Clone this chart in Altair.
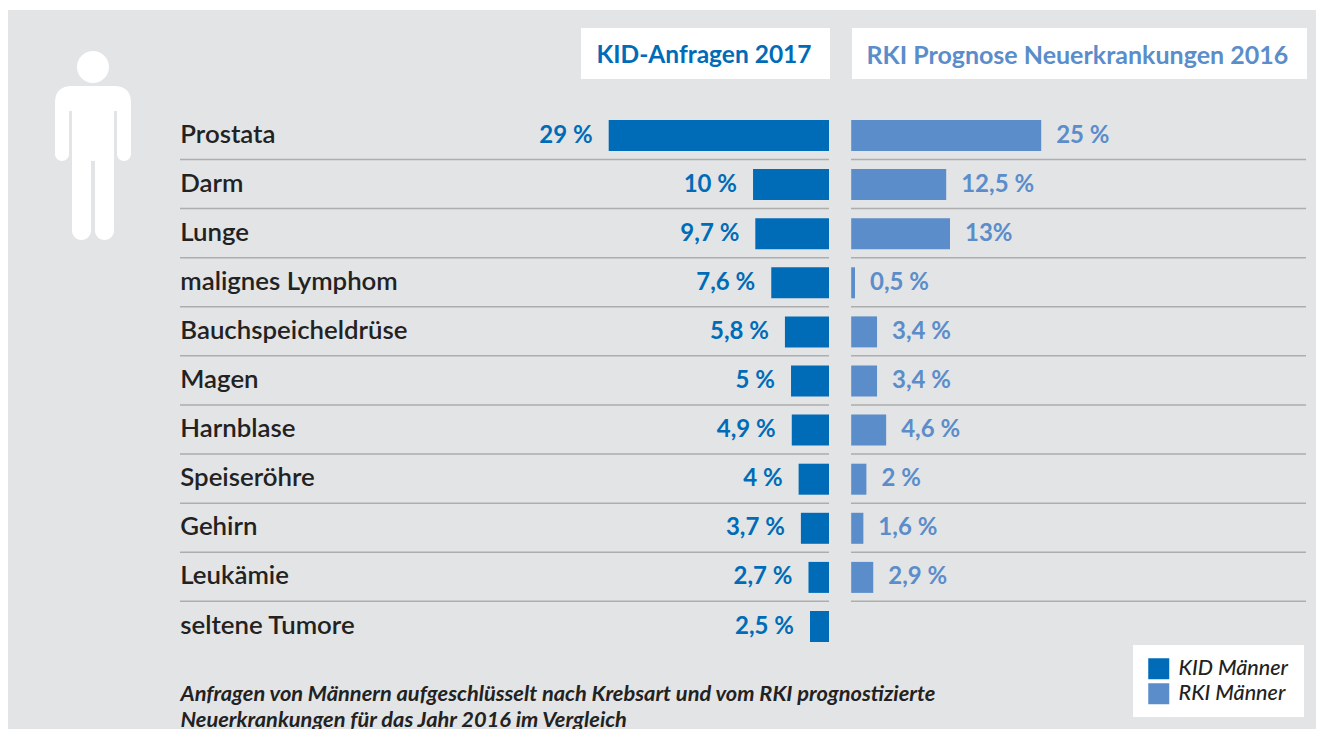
import altair as alt
import pandas as pd

categories = ["Prostata", "Darm", "Lunge", "malignes Lymphom", "Bauchspeicheldrüse", "Magen",
              "Harnblase", "Speiseröhre", "Gehirn", "Leukämie", "seltene Tumore"]
kid_values = [29, 10, 9.7, 7.6, 5.8, 5, 4.9, 4, 3.7, 2.7, 2.5]
kid_labels = ["29 %", "10 %", "9,7 %", "7,6 %", "5,8 %", "5 %", "4,9 %", "4 %", "3,7 %", "2,7 %", "2,5 %"]
rki_values = [25, 12.5, 13, 0.5, 3.4, 3.4, 4.6, 2, 1.6, 2.9]
rki_labels = ["25 %", "12,5 %", "13%", "0,5 %", "3,4 %", "3,4 %", "4,6 %", "2 %", "1,6 %", "2,9 %"]
kid_title = "KID-Anfragen 2017"
rki_title = "RKI Prognose Neuerkrankungen 2016"
series = ["KID Männer", "RKI Männer"]
footnote = ["Anfragen von Männern aufgeschlüsselt nach Krebsart und vom RKI prognostizierte",
            "Neuerkrankungen für das Jahr 2016 im Vergleich"]

KID = "#006cb7"
RKI = "#5b8dca"
BG = "#e3e4e6"
INK = "#222222"
FONT = "Lato"

kid = pd.DataFrame({"cat": categories, "v": kid_values, "label": kid_labels, "s": series[0]})
rki = pd.DataFrame({"cat": categories[:10], "v": rki_values, "label": rki_labels, "s": series[1]})
one = pd.DataFrame({"a": [0]})

y_scale = alt.Scale(type="band", domain=categories, range=[102.95, 643.05], paddingInner=0, paddingOuter=0)
Y = alt.Y("cat:N", scale=y_scale, axis=None)
Y_bottom = alt.Y("cat:N", scale=y_scale, axis=None, bandPosition=1)
color = alt.Color("s:N", scale=alt.Scale(domain=series, range=[KID, RKI]),
                  legend=alt.Legend(title=None, orient="none", legendX=1140, legendY=650, padding=0,
                                    symbolType="square", symbolSize=441, symbolStrokeWidth=0,
                                    labelFont=FONT, labelFontSize=21.5, labelFontStyle="italic",
                                    labelFontWeight=500, labelColor=INK, labelOffset=9,
                                    rowPadding=2, symbolOpacity=1))
X_kid = alt.X("v:Q", scale=alt.Scale(domain=[0, 29], range=[821, 600.7]), axis=None)
X_rki = alt.X("v:Q", scale=alt.Scale(domain=[0, 25], range=[843.2, 1033.2]), axis=None)


def box(x0, x1, y0, y1, fill):
    return alt.Chart(one).mark_rect(color=fill).encode(
        x=alt.value(x0), x2=alt.value(x1), y=alt.value(y0), y2=alt.value(y1))


person = ("M-38 -42 Q-38 -59 -21 -59 L21 -59 Q38 -59 38 -42 L38 9 A7 7 0 0 1 24 9 L24 -34 L21 -34 "
          "L21 85.5 A9.5 9.5 0 0 1 2 85.5 L2 16 L-2 16 L-2 85.5 A9.5 9.5 0 0 1 -21 85.5 "
          "L-21 -34 L-24 -34 L-24 9 A7 7 0 0 1 -38 9 Z "
          "M-16 -78 A16 16 0 1 0 16 -78 A16 16 0 1 0 -16 -78 Z")
icon = alt.Chart(one).mark_point(shape=person, size=4, filled=True, color="white", opacity=1, strokeWidth=0).encode(
    x=alt.value(85), y=alt.value(137))

rules_left = alt.Chart(kid.iloc[:10]).mark_rule(color="#adadad", strokeWidth=1.5, yOffset=-0.6).encode(
    y=Y_bottom, x=alt.value(172), x2=alt.value(821))
rules_right = alt.Chart(rki).mark_rule(color="#adadad", strokeWidth=1.5, yOffset=-0.6).encode(
    y=Y_bottom, x=alt.value(843), x2=alt.value(1298))

names = alt.Chart(kid).mark_text(align="left", font=FONT, fontSize=25.8, fontWeight=600, color=INK, dy=-1).encode(
    y=Y, x=alt.value(172.3), text="cat:N")

kid_bars = alt.Chart(kid).mark_bar(size=31).encode(y=Y, x=X_kid, color=color)
rki_bars = alt.Chart(rki).mark_bar(size=31).encode(y=Y, x=X_rki, color=color)
kid_text = alt.Chart(kid).mark_text(align="right", dx=-16, font=FONT, fontSize=24, fontWeight=700, color=KID).encode(
    y=Y, x=X_kid, text="label:N")
rki_text = alt.Chart(rki).mark_text(align="left", dx=15, font=FONT, fontSize=24, fontWeight=700, color=RKI).encode(
    y=Y, x=X_rki, text="label:N")

title_left = alt.Chart(one).mark_text(align="left", font=FONT, fontSize=24.5, fontWeight=700, color=KID).encode(
    x=alt.value(588.5), y=alt.value(48), text=alt.value(kid_title))
title_right = alt.Chart(one).mark_text(align="left", font=FONT, fontSize=25, fontWeight=700, color=RKI).encode(
    x=alt.value(858.5), y=alt.value(48), text=alt.value(rki_title))

note = alt.Chart(one).mark_text(align="left", baseline="top", font=FONT, fontSize=21.8, fontStyle="italic",
                                fontWeight=700, color=INK, lineHeight=26).encode(
    x=alt.value(172.5), y=alt.value(676), text=alt.value(footnote))

chart = alt.layer(
    box(0, 1308, 2, 721, BG),
    box(573, 822, 20, 71, "white"),
    box(844, 1299, 20, 71, "white"),
    box(1125, 1296, 637, 709, "white"),
    icon, rules_left, rules_right, names,
    kid_bars, rki_bars, kid_text, rki_text,
    title_left, title_right, note,
).resolve_scale(x="independent").properties(
    width=1308, height=721, padding=0, autosize=alt.AutoSizeParams(type="none")
).configure_view(stroke=None)

chart.save("out.html", embed_options={"renderer": "svg", "actions": False})
